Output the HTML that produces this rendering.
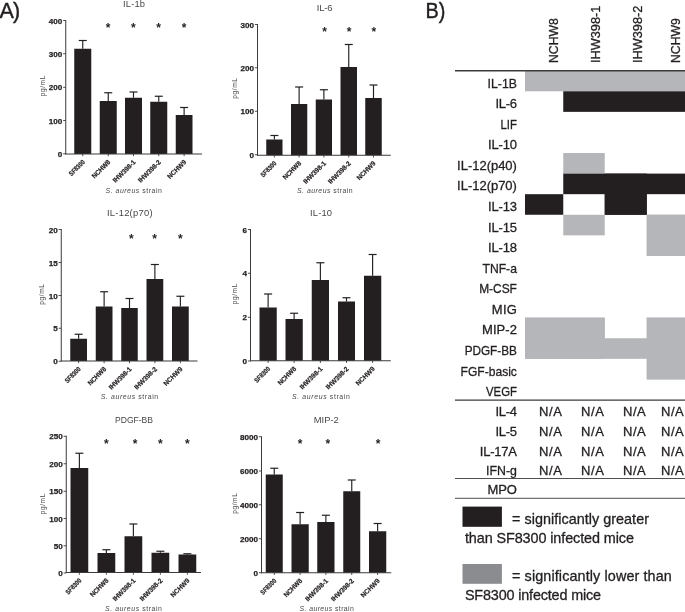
<!DOCTYPE html>
<html><head><meta charset="utf-8"><title>Figure</title>
<style>
html,body{margin:0;padding:0;background:#fff;}
svg{display:block;font-family:'Liberation Sans', Arial, sans-serif;}
</style></head><body>
<svg width="685" height="612" viewBox="0 0 685 612">
<rect x="0" y="0" width="685" height="612" fill="#ffffff"/>
<rect x="74.25" y="48.75" width="17.00" height="105.25" fill="#231f20"/>
<line x1="82.75" y1="40.50" x2="82.75" y2="48.75" stroke="#231f20" stroke-width="1.15"/>
<line x1="78.75" y1="40.50" x2="86.75" y2="40.50" stroke="#231f20" stroke-width="1.2"/>
<line x1="82.75" y1="154.00" x2="82.75" y2="156.20" stroke="#3c3a3b" stroke-width="0.9"/>
<rect x="99.75" y="101.00" width="17.00" height="53.00" fill="#231f20"/>
<line x1="108.25" y1="92.75" x2="108.25" y2="101.00" stroke="#231f20" stroke-width="1.15"/>
<line x1="104.25" y1="92.75" x2="112.25" y2="92.75" stroke="#231f20" stroke-width="1.2"/>
<line x1="108.25" y1="154.00" x2="108.25" y2="156.20" stroke="#3c3a3b" stroke-width="0.9"/>
<rect x="125.00" y="97.75" width="17.00" height="56.25" fill="#231f20"/>
<line x1="133.50" y1="92.00" x2="133.50" y2="97.75" stroke="#231f20" stroke-width="1.15"/>
<line x1="129.50" y1="92.00" x2="137.50" y2="92.00" stroke="#231f20" stroke-width="1.2"/>
<line x1="133.50" y1="154.00" x2="133.50" y2="156.20" stroke="#3c3a3b" stroke-width="0.9"/>
<rect x="150.25" y="101.75" width="17.00" height="52.25" fill="#231f20"/>
<line x1="158.75" y1="96.25" x2="158.75" y2="101.75" stroke="#231f20" stroke-width="1.15"/>
<line x1="154.75" y1="96.25" x2="162.75" y2="96.25" stroke="#231f20" stroke-width="1.2"/>
<line x1="158.75" y1="154.00" x2="158.75" y2="156.20" stroke="#3c3a3b" stroke-width="0.9"/>
<rect x="175.75" y="115.00" width="16.75" height="39.00" fill="#231f20"/>
<line x1="184.12" y1="107.50" x2="184.12" y2="115.00" stroke="#231f20" stroke-width="1.15"/>
<line x1="180.12" y1="107.50" x2="188.12" y2="107.50" stroke="#231f20" stroke-width="1.2"/>
<line x1="184.12" y1="154.00" x2="184.12" y2="156.20" stroke="#3c3a3b" stroke-width="0.9"/>
<line x1="65.75" y1="20.00" x2="65.75" y2="154.50" stroke="#3c3a3b" stroke-width="1"/>
<line x1="65.25" y1="154.00" x2="202.00" y2="154.00" stroke="#3c3a3b" stroke-width="1"/>
<line x1="63.15" y1="153.75" x2="65.75" y2="153.75" stroke="#3c3a3b" stroke-width="0.9"/>
<text x="62.35" y="156.75" font-size="8.1" text-anchor="end" fill="#231f20" font-weight="bold" stroke="#231f20" stroke-width="0.25">0</text>
<line x1="63.15" y1="120.50" x2="65.75" y2="120.50" stroke="#3c3a3b" stroke-width="0.9"/>
<text x="62.35" y="123.50" font-size="8.1" text-anchor="end" fill="#231f20" font-weight="bold" stroke="#231f20" stroke-width="0.25">100</text>
<line x1="63.15" y1="87.25" x2="65.75" y2="87.25" stroke="#3c3a3b" stroke-width="0.9"/>
<text x="62.35" y="90.25" font-size="8.1" text-anchor="end" fill="#231f20" font-weight="bold" stroke="#231f20" stroke-width="0.25">200</text>
<line x1="63.15" y1="53.75" x2="65.75" y2="53.75" stroke="#3c3a3b" stroke-width="0.9"/>
<text x="62.35" y="56.75" font-size="8.1" text-anchor="end" fill="#231f20" font-weight="bold" stroke="#231f20" stroke-width="0.25">300</text>
<line x1="63.15" y1="20.50" x2="65.75" y2="20.50" stroke="#3c3a3b" stroke-width="0.9"/>
<text x="62.35" y="23.50" font-size="8.1" text-anchor="end" fill="#231f20" font-weight="bold" stroke="#231f20" stroke-width="0.25">400</text>
<text x="123.00" y="7.00" font-size="9.4" text-anchor="start" fill="#48484a" textLength="22.00" lengthAdjust="spacing">IL-1b</text>
<text x="108.00" y="32.00" font-size="12" text-anchor="middle" fill="#231f20" font-weight="bold">*</text>
<text x="133.25" y="32.00" font-size="12" text-anchor="middle" fill="#231f20" font-weight="bold">*</text>
<text x="158.50" y="32.00" font-size="12" text-anchor="middle" fill="#231f20" font-weight="bold">*</text>
<text x="184.00" y="32.00" font-size="12" text-anchor="middle" fill="#231f20" font-weight="bold">*</text>
<text x="44.80" y="86.00" font-size="6.5" text-anchor="middle" fill="#48484a" textLength="20.60" lengthAdjust="spacing" transform="rotate(-90 44.80 86.00)">pg/mL</text>
<text x="85.35" y="162.60" font-size="6.8" text-anchor="end" fill="#231f20" font-weight="bold" textLength="19.50" lengthAdjust="spacingAndGlyphs" stroke="#231f20" stroke-width="0.2" transform="rotate(-45 85.35 162.60)">SF8300</text>
<text x="110.85" y="162.60" font-size="6.8" text-anchor="end" fill="#231f20" font-weight="bold" textLength="23.00" lengthAdjust="spacingAndGlyphs" stroke="#231f20" stroke-width="0.2" transform="rotate(-45 110.85 162.60)">NCHW8</text>
<text x="136.10" y="162.60" font-size="6.8" text-anchor="end" fill="#231f20" font-weight="bold" textLength="29.00" lengthAdjust="spacingAndGlyphs" stroke="#231f20" stroke-width="0.2" transform="rotate(-45 136.10 162.60)">IHW398-1</text>
<text x="161.35" y="162.60" font-size="6.8" text-anchor="end" fill="#231f20" font-weight="bold" textLength="29.00" lengthAdjust="spacingAndGlyphs" stroke="#231f20" stroke-width="0.2" transform="rotate(-45 161.35 162.60)">IHW398-2</text>
<text x="186.72" y="162.60" font-size="6.8" text-anchor="end" fill="#231f20" font-weight="bold" textLength="23.50" lengthAdjust="spacingAndGlyphs" stroke="#231f20" stroke-width="0.2" transform="rotate(-45 186.72 162.60)">NCHW9</text>
<text x="105.50" y="192.50" font-size="6.9" text-anchor="start" fill="#48484a" textLength="56.35" lengthAdjust="spacing"><tspan font-style="italic">S. aureus</tspan> strain</text>
<rect x="266.25" y="139.50" width="16.25" height="15.75" fill="#231f20"/>
<line x1="274.38" y1="135.50" x2="274.38" y2="139.50" stroke="#231f20" stroke-width="1.15"/>
<line x1="270.38" y1="135.50" x2="278.38" y2="135.50" stroke="#231f20" stroke-width="1.2"/>
<line x1="274.38" y1="155.25" x2="274.38" y2="157.45" stroke="#3c3a3b" stroke-width="0.9"/>
<rect x="291.00" y="104.00" width="16.25" height="51.25" fill="#231f20"/>
<line x1="299.12" y1="87.00" x2="299.12" y2="104.00" stroke="#231f20" stroke-width="1.15"/>
<line x1="295.12" y1="87.00" x2="303.12" y2="87.00" stroke="#231f20" stroke-width="1.2"/>
<line x1="299.12" y1="155.25" x2="299.12" y2="157.45" stroke="#3c3a3b" stroke-width="0.9"/>
<rect x="315.75" y="99.50" width="16.25" height="55.75" fill="#231f20"/>
<line x1="323.88" y1="89.75" x2="323.88" y2="99.50" stroke="#231f20" stroke-width="1.15"/>
<line x1="319.88" y1="89.75" x2="327.88" y2="89.75" stroke="#231f20" stroke-width="1.2"/>
<line x1="323.88" y1="155.25" x2="323.88" y2="157.45" stroke="#3c3a3b" stroke-width="0.9"/>
<rect x="340.50" y="67.00" width="16.50" height="88.25" fill="#231f20"/>
<line x1="348.75" y1="44.50" x2="348.75" y2="67.00" stroke="#231f20" stroke-width="1.15"/>
<line x1="344.75" y1="44.50" x2="352.75" y2="44.50" stroke="#231f20" stroke-width="1.2"/>
<line x1="348.75" y1="155.25" x2="348.75" y2="157.45" stroke="#3c3a3b" stroke-width="0.9"/>
<rect x="365.25" y="98.00" width="16.50" height="57.25" fill="#231f20"/>
<line x1="373.50" y1="85.00" x2="373.50" y2="98.00" stroke="#231f20" stroke-width="1.15"/>
<line x1="369.50" y1="85.00" x2="377.50" y2="85.00" stroke="#231f20" stroke-width="1.2"/>
<line x1="373.50" y1="155.25" x2="373.50" y2="157.45" stroke="#3c3a3b" stroke-width="0.9"/>
<line x1="257.50" y1="24.00" x2="257.50" y2="155.75" stroke="#3c3a3b" stroke-width="1"/>
<line x1="257.00" y1="155.25" x2="390.75" y2="155.25" stroke="#3c3a3b" stroke-width="1"/>
<line x1="254.90" y1="154.75" x2="257.50" y2="154.75" stroke="#3c3a3b" stroke-width="0.9"/>
<text x="254.10" y="157.75" font-size="8.1" text-anchor="end" fill="#231f20" font-weight="bold" stroke="#231f20" stroke-width="0.25">0</text>
<line x1="254.90" y1="111.25" x2="257.50" y2="111.25" stroke="#3c3a3b" stroke-width="0.9"/>
<text x="254.10" y="114.25" font-size="8.1" text-anchor="end" fill="#231f20" font-weight="bold" stroke="#231f20" stroke-width="0.25">100</text>
<line x1="254.90" y1="67.75" x2="257.50" y2="67.75" stroke="#3c3a3b" stroke-width="0.9"/>
<text x="254.10" y="70.75" font-size="8.1" text-anchor="end" fill="#231f20" font-weight="bold" stroke="#231f20" stroke-width="0.25">200</text>
<line x1="254.90" y1="24.50" x2="257.50" y2="24.50" stroke="#3c3a3b" stroke-width="0.9"/>
<text x="254.10" y="27.50" font-size="8.1" text-anchor="end" fill="#231f20" font-weight="bold" stroke="#231f20" stroke-width="0.25">300</text>
<text x="316.75" y="11.00" font-size="9.4" text-anchor="start" fill="#48484a" textLength="15.75" lengthAdjust="spacing">IL-6</text>
<text x="324.50" y="36.00" font-size="12" text-anchor="middle" fill="#231f20" font-weight="bold">*</text>
<text x="349.00" y="36.00" font-size="12" text-anchor="middle" fill="#231f20" font-weight="bold">*</text>
<text x="373.75" y="36.00" font-size="12" text-anchor="middle" fill="#231f20" font-weight="bold">*</text>
<text x="236.80" y="88.40" font-size="6.5" text-anchor="middle" fill="#48484a" textLength="20.60" lengthAdjust="spacing" transform="rotate(-90 236.80 88.40)">pg/mL</text>
<text x="276.98" y="163.85" font-size="6.8" text-anchor="end" fill="#231f20" font-weight="bold" textLength="19.50" lengthAdjust="spacingAndGlyphs" stroke="#231f20" stroke-width="0.2" transform="rotate(-45 276.98 163.85)">SF8300</text>
<text x="301.73" y="163.85" font-size="6.8" text-anchor="end" fill="#231f20" font-weight="bold" textLength="23.00" lengthAdjust="spacingAndGlyphs" stroke="#231f20" stroke-width="0.2" transform="rotate(-45 301.73 163.85)">NCHW8</text>
<text x="326.48" y="163.85" font-size="6.8" text-anchor="end" fill="#231f20" font-weight="bold" textLength="29.00" lengthAdjust="spacingAndGlyphs" stroke="#231f20" stroke-width="0.2" transform="rotate(-45 326.48 163.85)">IHW398-1</text>
<text x="351.35" y="163.85" font-size="6.8" text-anchor="end" fill="#231f20" font-weight="bold" textLength="29.00" lengthAdjust="spacingAndGlyphs" stroke="#231f20" stroke-width="0.2" transform="rotate(-45 351.35 163.85)">IHW398-2</text>
<text x="376.10" y="163.85" font-size="6.8" text-anchor="end" fill="#231f20" font-weight="bold" textLength="23.50" lengthAdjust="spacingAndGlyphs" stroke="#231f20" stroke-width="0.2" transform="rotate(-45 376.10 163.85)">NCHW9</text>
<text x="297.00" y="192.50" font-size="6.9" text-anchor="start" fill="#48484a" textLength="55.60" lengthAdjust="spacing"><tspan font-style="italic">S. aureus</tspan> strain</text>
<rect x="70.25" y="338.75" width="16.75" height="22.25" fill="#231f20"/>
<line x1="78.62" y1="334.25" x2="78.62" y2="338.75" stroke="#231f20" stroke-width="1.15"/>
<line x1="74.62" y1="334.25" x2="82.62" y2="334.25" stroke="#231f20" stroke-width="1.2"/>
<line x1="78.62" y1="361.00" x2="78.62" y2="363.20" stroke="#3c3a3b" stroke-width="0.9"/>
<rect x="95.75" y="306.50" width="16.75" height="54.50" fill="#231f20"/>
<line x1="104.12" y1="291.75" x2="104.12" y2="306.50" stroke="#231f20" stroke-width="1.15"/>
<line x1="100.12" y1="291.75" x2="108.12" y2="291.75" stroke="#231f20" stroke-width="1.2"/>
<line x1="104.12" y1="361.00" x2="104.12" y2="363.20" stroke="#3c3a3b" stroke-width="0.9"/>
<rect x="121.25" y="308.00" width="16.50" height="53.00" fill="#231f20"/>
<line x1="129.50" y1="298.50" x2="129.50" y2="308.00" stroke="#231f20" stroke-width="1.15"/>
<line x1="125.50" y1="298.50" x2="133.50" y2="298.50" stroke="#231f20" stroke-width="1.2"/>
<line x1="129.50" y1="361.00" x2="129.50" y2="363.20" stroke="#3c3a3b" stroke-width="0.9"/>
<rect x="146.50" y="279.00" width="16.75" height="82.00" fill="#231f20"/>
<line x1="154.88" y1="264.50" x2="154.88" y2="279.00" stroke="#231f20" stroke-width="1.15"/>
<line x1="150.88" y1="264.50" x2="158.88" y2="264.50" stroke="#231f20" stroke-width="1.2"/>
<line x1="154.88" y1="361.00" x2="154.88" y2="363.20" stroke="#3c3a3b" stroke-width="0.9"/>
<rect x="172.00" y="306.50" width="16.75" height="54.50" fill="#231f20"/>
<line x1="180.38" y1="296.25" x2="180.38" y2="306.50" stroke="#231f20" stroke-width="1.15"/>
<line x1="176.38" y1="296.25" x2="184.38" y2="296.25" stroke="#231f20" stroke-width="1.2"/>
<line x1="180.38" y1="361.00" x2="180.38" y2="363.20" stroke="#3c3a3b" stroke-width="0.9"/>
<line x1="61.25" y1="229.00" x2="61.25" y2="361.50" stroke="#3c3a3b" stroke-width="1"/>
<line x1="60.75" y1="361.00" x2="197.50" y2="361.00" stroke="#3c3a3b" stroke-width="1"/>
<line x1="58.65" y1="361.25" x2="61.25" y2="361.25" stroke="#3c3a3b" stroke-width="0.9"/>
<text x="57.85" y="364.25" font-size="8.1" text-anchor="end" fill="#231f20" font-weight="bold" stroke="#231f20" stroke-width="0.25">0</text>
<line x1="58.65" y1="328.25" x2="61.25" y2="328.25" stroke="#3c3a3b" stroke-width="0.9"/>
<text x="57.85" y="331.25" font-size="8.1" text-anchor="end" fill="#231f20" font-weight="bold" stroke="#231f20" stroke-width="0.25">5</text>
<line x1="58.65" y1="295.50" x2="61.25" y2="295.50" stroke="#3c3a3b" stroke-width="0.9"/>
<text x="57.85" y="298.50" font-size="8.1" text-anchor="end" fill="#231f20" font-weight="bold" stroke="#231f20" stroke-width="0.25">10</text>
<line x1="58.65" y1="262.50" x2="61.25" y2="262.50" stroke="#3c3a3b" stroke-width="0.9"/>
<text x="57.85" y="265.50" font-size="8.1" text-anchor="end" fill="#231f20" font-weight="bold" stroke="#231f20" stroke-width="0.25">15</text>
<line x1="58.65" y1="229.50" x2="61.25" y2="229.50" stroke="#3c3a3b" stroke-width="0.9"/>
<text x="57.85" y="232.50" font-size="8.1" text-anchor="end" fill="#231f20" font-weight="bold" stroke="#231f20" stroke-width="0.25">20</text>
<text x="107.00" y="216.00" font-size="9.4" text-anchor="start" fill="#48484a" textLength="45.50" lengthAdjust="spacing">IL-12(p70)</text>
<text x="131.25" y="243.00" font-size="12" text-anchor="middle" fill="#231f20" font-weight="bold">*</text>
<text x="154.50" y="243.00" font-size="12" text-anchor="middle" fill="#231f20" font-weight="bold">*</text>
<text x="180.25" y="243.00" font-size="12" text-anchor="middle" fill="#231f20" font-weight="bold">*</text>
<text x="44.30" y="294.40" font-size="6.5" text-anchor="middle" fill="#48484a" textLength="20.60" lengthAdjust="spacing" transform="rotate(-90 44.30 294.40)">pg/mL</text>
<text x="81.22" y="369.60" font-size="6.8" text-anchor="end" fill="#231f20" font-weight="bold" textLength="19.50" lengthAdjust="spacingAndGlyphs" stroke="#231f20" stroke-width="0.2" transform="rotate(-45 81.22 369.60)">SF8300</text>
<text x="106.72" y="369.60" font-size="6.8" text-anchor="end" fill="#231f20" font-weight="bold" textLength="23.00" lengthAdjust="spacingAndGlyphs" stroke="#231f20" stroke-width="0.2" transform="rotate(-45 106.72 369.60)">NCHW8</text>
<text x="132.10" y="369.60" font-size="6.8" text-anchor="end" fill="#231f20" font-weight="bold" textLength="29.00" lengthAdjust="spacingAndGlyphs" stroke="#231f20" stroke-width="0.2" transform="rotate(-45 132.10 369.60)">IHW398-1</text>
<text x="157.47" y="369.60" font-size="6.8" text-anchor="end" fill="#231f20" font-weight="bold" textLength="29.00" lengthAdjust="spacingAndGlyphs" stroke="#231f20" stroke-width="0.2" transform="rotate(-45 157.47 369.60)">IHW398-2</text>
<text x="182.97" y="369.60" font-size="6.8" text-anchor="end" fill="#231f20" font-weight="bold" textLength="23.50" lengthAdjust="spacingAndGlyphs" stroke="#231f20" stroke-width="0.2" transform="rotate(-45 182.97 369.60)">NCHW9</text>
<text x="100.75" y="399.25" font-size="6.9" text-anchor="start" fill="#48484a" textLength="57.35" lengthAdjust="spacing"><tspan font-style="italic">S. aureus</tspan> strain</text>
<rect x="259.50" y="307.50" width="17.25" height="53.25" fill="#231f20"/>
<line x1="268.12" y1="294.00" x2="268.12" y2="307.50" stroke="#231f20" stroke-width="1.15"/>
<line x1="264.12" y1="294.00" x2="272.12" y2="294.00" stroke="#231f20" stroke-width="1.2"/>
<line x1="268.12" y1="360.75" x2="268.12" y2="362.95" stroke="#3c3a3b" stroke-width="0.9"/>
<rect x="285.50" y="319.00" width="17.25" height="41.75" fill="#231f20"/>
<line x1="294.12" y1="313.25" x2="294.12" y2="319.00" stroke="#231f20" stroke-width="1.15"/>
<line x1="290.12" y1="313.25" x2="298.12" y2="313.25" stroke="#231f20" stroke-width="1.2"/>
<line x1="294.12" y1="360.75" x2="294.12" y2="362.95" stroke="#3c3a3b" stroke-width="0.9"/>
<rect x="311.75" y="280.00" width="17.25" height="80.75" fill="#231f20"/>
<line x1="320.38" y1="262.75" x2="320.38" y2="280.00" stroke="#231f20" stroke-width="1.15"/>
<line x1="316.38" y1="262.75" x2="324.38" y2="262.75" stroke="#231f20" stroke-width="1.2"/>
<line x1="320.38" y1="360.75" x2="320.38" y2="362.95" stroke="#3c3a3b" stroke-width="0.9"/>
<rect x="338.00" y="301.50" width="17.00" height="59.25" fill="#231f20"/>
<line x1="346.50" y1="297.75" x2="346.50" y2="301.50" stroke="#231f20" stroke-width="1.15"/>
<line x1="342.50" y1="297.75" x2="350.50" y2="297.75" stroke="#231f20" stroke-width="1.2"/>
<line x1="346.50" y1="360.75" x2="346.50" y2="362.95" stroke="#3c3a3b" stroke-width="0.9"/>
<rect x="364.00" y="275.75" width="17.25" height="85.00" fill="#231f20"/>
<line x1="372.62" y1="254.50" x2="372.62" y2="275.75" stroke="#231f20" stroke-width="1.15"/>
<line x1="368.62" y1="254.50" x2="376.62" y2="254.50" stroke="#231f20" stroke-width="1.2"/>
<line x1="372.62" y1="360.75" x2="372.62" y2="362.95" stroke="#3c3a3b" stroke-width="0.9"/>
<line x1="250.50" y1="229.00" x2="250.50" y2="361.25" stroke="#3c3a3b" stroke-width="1"/>
<line x1="250.00" y1="360.75" x2="390.75" y2="360.75" stroke="#3c3a3b" stroke-width="1"/>
<line x1="247.90" y1="361.00" x2="250.50" y2="361.00" stroke="#3c3a3b" stroke-width="0.9"/>
<text x="247.10" y="364.00" font-size="8.1" text-anchor="end" fill="#231f20" font-weight="bold" stroke="#231f20" stroke-width="0.25">0</text>
<line x1="247.90" y1="317.25" x2="250.50" y2="317.25" stroke="#3c3a3b" stroke-width="0.9"/>
<text x="247.10" y="320.25" font-size="8.1" text-anchor="end" fill="#231f20" font-weight="bold" stroke="#231f20" stroke-width="0.25">2</text>
<line x1="247.90" y1="273.25" x2="250.50" y2="273.25" stroke="#3c3a3b" stroke-width="0.9"/>
<text x="247.10" y="276.25" font-size="8.1" text-anchor="end" fill="#231f20" font-weight="bold" stroke="#231f20" stroke-width="0.25">4</text>
<line x1="247.90" y1="229.50" x2="250.50" y2="229.50" stroke="#3c3a3b" stroke-width="0.9"/>
<text x="247.10" y="232.50" font-size="8.1" text-anchor="end" fill="#231f20" font-weight="bold" stroke="#231f20" stroke-width="0.25">6</text>
<text x="310.00" y="216.00" font-size="9.4" text-anchor="start" fill="#48484a" textLength="22.00" lengthAdjust="spacing">IL-10</text>
<text x="237.30" y="294.00" font-size="6.5" text-anchor="middle" fill="#48484a" textLength="20.60" lengthAdjust="spacing" transform="rotate(-90 237.30 294.00)">pg/mL</text>
<text x="270.73" y="369.35" font-size="6.8" text-anchor="end" fill="#231f20" font-weight="bold" textLength="19.50" lengthAdjust="spacingAndGlyphs" stroke="#231f20" stroke-width="0.2" transform="rotate(-45 270.73 369.35)">SF8300</text>
<text x="296.73" y="369.35" font-size="6.8" text-anchor="end" fill="#231f20" font-weight="bold" textLength="23.00" lengthAdjust="spacingAndGlyphs" stroke="#231f20" stroke-width="0.2" transform="rotate(-45 296.73 369.35)">NCHW8</text>
<text x="322.98" y="369.35" font-size="6.8" text-anchor="end" fill="#231f20" font-weight="bold" textLength="29.00" lengthAdjust="spacingAndGlyphs" stroke="#231f20" stroke-width="0.2" transform="rotate(-45 322.98 369.35)">IHW398-1</text>
<text x="349.10" y="369.35" font-size="6.8" text-anchor="end" fill="#231f20" font-weight="bold" textLength="29.00" lengthAdjust="spacingAndGlyphs" stroke="#231f20" stroke-width="0.2" transform="rotate(-45 349.10 369.35)">IHW398-2</text>
<text x="375.23" y="369.35" font-size="6.8" text-anchor="end" fill="#231f20" font-weight="bold" textLength="23.50" lengthAdjust="spacingAndGlyphs" stroke="#231f20" stroke-width="0.2" transform="rotate(-45 375.23 369.35)">NCHW9</text>
<text x="292.00" y="399.25" font-size="6.9" text-anchor="start" fill="#48484a" textLength="57.85" lengthAdjust="spacing"><tspan font-style="italic">S. aureus</tspan> strain</text>
<rect x="70.50" y="468.00" width="17.75" height="104.50" fill="#231f20"/>
<line x1="79.38" y1="453.25" x2="79.38" y2="468.00" stroke="#231f20" stroke-width="1.15"/>
<line x1="75.38" y1="453.25" x2="83.38" y2="453.25" stroke="#231f20" stroke-width="1.2"/>
<line x1="79.38" y1="572.50" x2="79.38" y2="574.70" stroke="#3c3a3b" stroke-width="0.9"/>
<rect x="97.50" y="553.00" width="17.75" height="19.50" fill="#231f20"/>
<line x1="106.38" y1="549.75" x2="106.38" y2="553.00" stroke="#231f20" stroke-width="1.15"/>
<line x1="102.38" y1="549.75" x2="110.38" y2="549.75" stroke="#231f20" stroke-width="1.2"/>
<line x1="106.38" y1="572.50" x2="106.38" y2="574.70" stroke="#3c3a3b" stroke-width="0.9"/>
<rect x="124.50" y="536.25" width="17.75" height="36.25" fill="#231f20"/>
<line x1="133.38" y1="524.00" x2="133.38" y2="536.25" stroke="#231f20" stroke-width="1.15"/>
<line x1="129.38" y1="524.00" x2="137.38" y2="524.00" stroke="#231f20" stroke-width="1.2"/>
<line x1="133.38" y1="572.50" x2="133.38" y2="574.70" stroke="#3c3a3b" stroke-width="0.9"/>
<rect x="151.50" y="552.75" width="17.75" height="19.75" fill="#231f20"/>
<line x1="160.38" y1="551.25" x2="160.38" y2="552.75" stroke="#231f20" stroke-width="1.15"/>
<line x1="156.38" y1="551.25" x2="164.38" y2="551.25" stroke="#231f20" stroke-width="1.2"/>
<line x1="160.38" y1="572.50" x2="160.38" y2="574.70" stroke="#3c3a3b" stroke-width="0.9"/>
<rect x="178.50" y="554.50" width="17.75" height="18.00" fill="#231f20"/>
<line x1="187.38" y1="553.75" x2="187.38" y2="554.50" stroke="#231f20" stroke-width="1.15"/>
<line x1="183.38" y1="553.75" x2="191.38" y2="553.75" stroke="#231f20" stroke-width="1.2"/>
<line x1="187.38" y1="572.50" x2="187.38" y2="574.70" stroke="#3c3a3b" stroke-width="0.9"/>
<line x1="66.25" y1="435.75" x2="66.25" y2="573.00" stroke="#3c3a3b" stroke-width="1"/>
<line x1="65.75" y1="572.50" x2="201.00" y2="572.50" stroke="#3c3a3b" stroke-width="1"/>
<line x1="63.65" y1="573.00" x2="66.25" y2="573.00" stroke="#3c3a3b" stroke-width="0.9"/>
<text x="62.85" y="576.00" font-size="8.1" text-anchor="end" fill="#231f20" font-weight="bold" stroke="#231f20" stroke-width="0.25">0</text>
<line x1="63.65" y1="545.75" x2="66.25" y2="545.75" stroke="#3c3a3b" stroke-width="0.9"/>
<text x="62.85" y="548.75" font-size="8.1" text-anchor="end" fill="#231f20" font-weight="bold" stroke="#231f20" stroke-width="0.25">50</text>
<line x1="63.65" y1="518.50" x2="66.25" y2="518.50" stroke="#3c3a3b" stroke-width="0.9"/>
<text x="62.85" y="521.50" font-size="8.1" text-anchor="end" fill="#231f20" font-weight="bold" stroke="#231f20" stroke-width="0.25">100</text>
<line x1="63.65" y1="491.25" x2="66.25" y2="491.25" stroke="#3c3a3b" stroke-width="0.9"/>
<text x="62.85" y="494.25" font-size="8.1" text-anchor="end" fill="#231f20" font-weight="bold" stroke="#231f20" stroke-width="0.25">150</text>
<line x1="63.65" y1="463.75" x2="66.25" y2="463.75" stroke="#3c3a3b" stroke-width="0.9"/>
<text x="62.85" y="466.75" font-size="8.1" text-anchor="end" fill="#231f20" font-weight="bold" stroke="#231f20" stroke-width="0.25">200</text>
<line x1="63.65" y1="436.25" x2="66.25" y2="436.25" stroke="#3c3a3b" stroke-width="0.9"/>
<text x="62.85" y="439.25" font-size="8.1" text-anchor="end" fill="#231f20" font-weight="bold" stroke="#231f20" stroke-width="0.25">250</text>
<text x="115.00" y="423.00" font-size="9.4" text-anchor="start" fill="#48484a" textLength="38.00" lengthAdjust="spacingAndGlyphs">PDGF-BB</text>
<text x="106.25" y="448.00" font-size="12" text-anchor="middle" fill="#231f20" font-weight="bold">*</text>
<text x="135.00" y="448.00" font-size="12" text-anchor="middle" fill="#231f20" font-weight="bold">*</text>
<text x="160.25" y="448.00" font-size="12" text-anchor="middle" fill="#231f20" font-weight="bold">*</text>
<text x="187.25" y="448.00" font-size="12" text-anchor="middle" fill="#231f20" font-weight="bold">*</text>
<text x="44.80" y="504.00" font-size="6.5" text-anchor="middle" fill="#48484a" textLength="20.60" lengthAdjust="spacing" transform="rotate(-90 44.80 504.00)">pg/mL</text>
<text x="81.97" y="581.10" font-size="6.8" text-anchor="end" fill="#231f20" font-weight="bold" textLength="19.50" lengthAdjust="spacingAndGlyphs" stroke="#231f20" stroke-width="0.2" transform="rotate(-45 81.97 581.10)">SF8300</text>
<text x="108.97" y="581.10" font-size="6.8" text-anchor="end" fill="#231f20" font-weight="bold" textLength="23.00" lengthAdjust="spacingAndGlyphs" stroke="#231f20" stroke-width="0.2" transform="rotate(-45 108.97 581.10)">NCHW8</text>
<text x="135.97" y="581.10" font-size="6.8" text-anchor="end" fill="#231f20" font-weight="bold" textLength="29.00" lengthAdjust="spacingAndGlyphs" stroke="#231f20" stroke-width="0.2" transform="rotate(-45 135.97 581.10)">IHW398-1</text>
<text x="162.97" y="581.10" font-size="6.8" text-anchor="end" fill="#231f20" font-weight="bold" textLength="29.00" lengthAdjust="spacingAndGlyphs" stroke="#231f20" stroke-width="0.2" transform="rotate(-45 162.97 581.10)">IHW398-2</text>
<text x="189.97" y="581.10" font-size="6.8" text-anchor="end" fill="#231f20" font-weight="bold" textLength="23.50" lengthAdjust="spacingAndGlyphs" stroke="#231f20" stroke-width="0.2" transform="rotate(-45 189.97 581.10)">NCHW9</text>
<text x="105.00" y="611.00" font-size="6.9" text-anchor="start" fill="#48484a" textLength="56.85" lengthAdjust="spacing"><tspan font-style="italic">S. aureus</tspan> strain</text>
<rect x="265.75" y="474.50" width="17.00" height="98.25" fill="#231f20"/>
<line x1="274.25" y1="468.25" x2="274.25" y2="474.50" stroke="#231f20" stroke-width="1.15"/>
<line x1="270.25" y1="468.25" x2="278.25" y2="468.25" stroke="#231f20" stroke-width="1.2"/>
<line x1="274.25" y1="572.75" x2="274.25" y2="574.95" stroke="#3c3a3b" stroke-width="0.9"/>
<rect x="291.50" y="524.25" width="17.25" height="48.50" fill="#231f20"/>
<line x1="300.12" y1="512.50" x2="300.12" y2="524.25" stroke="#231f20" stroke-width="1.15"/>
<line x1="296.12" y1="512.50" x2="304.12" y2="512.50" stroke="#231f20" stroke-width="1.2"/>
<line x1="300.12" y1="572.75" x2="300.12" y2="574.95" stroke="#3c3a3b" stroke-width="0.9"/>
<rect x="317.25" y="522.00" width="17.25" height="50.75" fill="#231f20"/>
<line x1="325.88" y1="515.25" x2="325.88" y2="522.00" stroke="#231f20" stroke-width="1.15"/>
<line x1="321.88" y1="515.25" x2="329.88" y2="515.25" stroke="#231f20" stroke-width="1.2"/>
<line x1="325.88" y1="572.75" x2="325.88" y2="574.95" stroke="#3c3a3b" stroke-width="0.9"/>
<rect x="343.25" y="491.25" width="17.00" height="81.50" fill="#231f20"/>
<line x1="351.75" y1="480.00" x2="351.75" y2="491.25" stroke="#231f20" stroke-width="1.15"/>
<line x1="347.75" y1="480.00" x2="355.75" y2="480.00" stroke="#231f20" stroke-width="1.2"/>
<line x1="351.75" y1="572.75" x2="351.75" y2="574.95" stroke="#3c3a3b" stroke-width="0.9"/>
<rect x="369.00" y="531.25" width="17.25" height="41.50" fill="#231f20"/>
<line x1="377.62" y1="523.50" x2="377.62" y2="531.25" stroke="#231f20" stroke-width="1.15"/>
<line x1="373.62" y1="523.50" x2="381.62" y2="523.50" stroke="#231f20" stroke-width="1.2"/>
<line x1="377.62" y1="572.75" x2="377.62" y2="574.95" stroke="#3c3a3b" stroke-width="0.9"/>
<line x1="261.50" y1="436.25" x2="261.50" y2="573.25" stroke="#3c3a3b" stroke-width="1"/>
<line x1="261.00" y1="572.75" x2="391.25" y2="572.75" stroke="#3c3a3b" stroke-width="1"/>
<line x1="258.90" y1="572.70" x2="261.50" y2="572.70" stroke="#3c3a3b" stroke-width="0.9"/>
<text x="258.10" y="575.70" font-size="8.1" text-anchor="end" fill="#231f20" font-weight="bold" stroke="#231f20" stroke-width="0.25">0</text>
<line x1="258.90" y1="538.75" x2="261.50" y2="538.75" stroke="#3c3a3b" stroke-width="0.9"/>
<text x="258.10" y="541.75" font-size="8.1" text-anchor="end" fill="#231f20" font-weight="bold" stroke="#231f20" stroke-width="0.25">2000</text>
<line x1="258.90" y1="504.75" x2="261.50" y2="504.75" stroke="#3c3a3b" stroke-width="0.9"/>
<text x="258.10" y="507.75" font-size="8.1" text-anchor="end" fill="#231f20" font-weight="bold" stroke="#231f20" stroke-width="0.25">4000</text>
<line x1="258.90" y1="471.00" x2="261.50" y2="471.00" stroke="#3c3a3b" stroke-width="0.9"/>
<text x="258.10" y="474.00" font-size="8.1" text-anchor="end" fill="#231f20" font-weight="bold" stroke="#231f20" stroke-width="0.25">6000</text>
<line x1="258.90" y1="436.75" x2="261.50" y2="436.75" stroke="#3c3a3b" stroke-width="0.9"/>
<text x="258.10" y="439.75" font-size="8.1" text-anchor="end" fill="#231f20" font-weight="bold" stroke="#231f20" stroke-width="0.25">8000</text>
<text x="313.75" y="423.00" font-size="9.4" text-anchor="start" fill="#48484a" textLength="25.00" lengthAdjust="spacing">MIP-2</text>
<text x="300.00" y="448.00" font-size="12" text-anchor="middle" fill="#231f20" font-weight="bold">*</text>
<text x="327.75" y="448.00" font-size="12" text-anchor="middle" fill="#231f20" font-weight="bold">*</text>
<text x="378.00" y="448.00" font-size="12" text-anchor="middle" fill="#231f20" font-weight="bold">*</text>
<text x="236.80" y="503.50" font-size="6.5" text-anchor="middle" fill="#48484a" textLength="20.60" lengthAdjust="spacing" transform="rotate(-90 236.80 503.50)">pg/mL</text>
<text x="276.85" y="581.35" font-size="6.8" text-anchor="end" fill="#231f20" font-weight="bold" textLength="19.50" lengthAdjust="spacingAndGlyphs" stroke="#231f20" stroke-width="0.2" transform="rotate(-45 276.85 581.35)">SF8300</text>
<text x="302.73" y="581.35" font-size="6.8" text-anchor="end" fill="#231f20" font-weight="bold" textLength="23.00" lengthAdjust="spacingAndGlyphs" stroke="#231f20" stroke-width="0.2" transform="rotate(-45 302.73 581.35)">NCHW8</text>
<text x="328.48" y="581.35" font-size="6.8" text-anchor="end" fill="#231f20" font-weight="bold" textLength="29.00" lengthAdjust="spacingAndGlyphs" stroke="#231f20" stroke-width="0.2" transform="rotate(-45 328.48 581.35)">IHW398-1</text>
<text x="354.35" y="581.35" font-size="6.8" text-anchor="end" fill="#231f20" font-weight="bold" textLength="29.00" lengthAdjust="spacingAndGlyphs" stroke="#231f20" stroke-width="0.2" transform="rotate(-45 354.35 581.35)">IHW398-2</text>
<text x="380.23" y="581.35" font-size="6.8" text-anchor="end" fill="#231f20" font-weight="bold" textLength="23.50" lengthAdjust="spacingAndGlyphs" stroke="#231f20" stroke-width="0.2" transform="rotate(-45 380.23 581.35)">NCHW9</text>
<text x="299.50" y="611.00" font-size="6.9" text-anchor="start" fill="#48484a" textLength="54.35" lengthAdjust="spacing"><tspan font-style="italic">S. aureus</tspan> strain</text>
<text x="-0.50" y="18.30" font-size="21.5" text-anchor="start" fill="#231f20" textLength="20.60" lengthAdjust="spacing" stroke="#231f20" stroke-width="0.4">A)</text>
<text x="425.50" y="18.30" font-size="21.5" text-anchor="start" fill="#231f20" textLength="19.90" lengthAdjust="spacingAndGlyphs" stroke="#231f20" stroke-width="0.4">B)</text>
<rect x="525.00" y="70.70" width="161.00" height="20.58" fill="#b5b6b9"/>
<rect x="563.25" y="91.28" width="122.75" height="20.58" fill="#231f20"/>
<rect x="563.25" y="153.02" width="41.50" height="20.58" fill="#b5b6b9"/>
<rect x="563.25" y="173.60" width="122.75" height="20.58" fill="#231f20"/>
<rect x="525.00" y="194.18" width="38.25" height="20.58" fill="#231f20"/>
<rect x="604.75" y="194.18" width="42.00" height="20.58" fill="#231f20"/>
<rect x="563.25" y="214.76" width="41.50" height="20.58" fill="#b5b6b9"/>
<rect x="646.75" y="214.76" width="39.25" height="20.58" fill="#b5b6b9"/>
<rect x="646.75" y="235.34" width="39.25" height="20.58" fill="#b5b6b9"/>
<rect x="525.00" y="317.66" width="79.75" height="20.58" fill="#b5b6b9"/>
<rect x="646.75" y="317.66" width="39.25" height="20.58" fill="#b5b6b9"/>
<rect x="525.00" y="338.24" width="161.00" height="20.58" fill="#b5b6b9"/>
<rect x="646.75" y="358.82" width="39.25" height="20.58" fill="#b5b6b9"/>
<rect x="525.00" y="317.66" width="38.25" height="41.16" fill="#b5b6b9"/>
<rect x="563.25" y="317.66" width="41.50" height="41.16" fill="#b5b6b9"/>
<rect x="604.75" y="173.60" width="42.00" height="41.16" fill="#231f20"/>
<rect x="646.75" y="214.76" width="39.25" height="41.16" fill="#b5b6b9"/>
<rect x="646.75" y="317.66" width="39.25" height="61.74" fill="#b5b6b9"/>
<line x1="455.00" y1="70.75" x2="686.00" y2="70.75" stroke="#3c3a3b" stroke-width="1.4"/>
<line x1="455.00" y1="400.10" x2="686.00" y2="400.10" stroke="#3c3a3b" stroke-width="1.3"/>
<line x1="455.00" y1="478.50" x2="686.00" y2="478.50" stroke="#3c3a3b" stroke-width="0.9"/>
<line x1="455.00" y1="498.30" x2="686.00" y2="498.30" stroke="#3c3a3b" stroke-width="0.9"/>
<text x="516.90" y="88.00" font-size="13.0" text-anchor="end" fill="#231f20" textLength="29.32" lengthAdjust="spacingAndGlyphs" stroke="#231f20" stroke-width="0.3">IL-1B</text>
<text x="516.90" y="108.00" font-size="13.0" text-anchor="end" fill="#231f20" textLength="21.46" lengthAdjust="spacing" stroke="#231f20" stroke-width="0.3">IL-6</text>
<text x="516.90" y="129.00" font-size="13.0" text-anchor="end" fill="#231f20" textLength="16.35" lengthAdjust="spacingAndGlyphs" stroke="#231f20" stroke-width="0.3">LIF</text>
<text x="516.90" y="149.00" font-size="13.0" text-anchor="end" fill="#231f20" textLength="28.79" lengthAdjust="spacing" stroke="#231f20" stroke-width="0.3">IL-10</text>
<text x="516.90" y="170.00" font-size="13.0" text-anchor="end" fill="#231f20" textLength="59.79" lengthAdjust="spacing" stroke="#231f20" stroke-width="0.3">IL-12(p40)</text>
<text x="516.90" y="190.00" font-size="13.0" text-anchor="end" fill="#231f20" textLength="59.79" lengthAdjust="spacing" stroke="#231f20" stroke-width="0.3">IL-12(p70)</text>
<text x="516.90" y="211.00" font-size="13.0" text-anchor="end" fill="#231f20" textLength="28.79" lengthAdjust="spacing" stroke="#231f20" stroke-width="0.3">IL-13</text>
<text x="516.90" y="232.00" font-size="13.0" text-anchor="end" fill="#231f20" textLength="28.79" lengthAdjust="spacing" stroke="#231f20" stroke-width="0.3">IL-15</text>
<text x="516.90" y="252.00" font-size="13.0" text-anchor="end" fill="#231f20" textLength="28.79" lengthAdjust="spacing" stroke="#231f20" stroke-width="0.3">IL-18</text>
<text x="516.90" y="273.00" font-size="13.0" text-anchor="end" fill="#231f20" textLength="34.35" lengthAdjust="spacingAndGlyphs" stroke="#231f20" stroke-width="0.3">TNF-a</text>
<text x="516.90" y="293.00" font-size="13.0" text-anchor="end" fill="#231f20" textLength="37.76" lengthAdjust="spacingAndGlyphs" stroke="#231f20" stroke-width="0.3">M-CSF</text>
<text x="516.90" y="314.00" font-size="13.0" text-anchor="end" fill="#231f20" textLength="25.11" lengthAdjust="spacing" stroke="#231f20" stroke-width="0.3">MIG</text>
<text x="516.90" y="334.00" font-size="13.0" text-anchor="end" fill="#231f20" textLength="34.78" lengthAdjust="spacing" stroke="#231f20" stroke-width="0.3">MIP-2</text>
<text x="516.90" y="355.00" font-size="13.0" text-anchor="end" fill="#231f20" textLength="52.25" lengthAdjust="spacingAndGlyphs" stroke="#231f20" stroke-width="0.3">PDGF-BB</text>
<text x="516.90" y="376.00" font-size="13.0" text-anchor="end" fill="#231f20" textLength="56.28" lengthAdjust="spacingAndGlyphs" stroke="#231f20" stroke-width="0.3">FGF-basic</text>
<text x="516.90" y="396.00" font-size="13.0" text-anchor="end" fill="#231f20" textLength="30.84" lengthAdjust="spacingAndGlyphs" stroke="#231f20" stroke-width="0.3">VEGF</text>
<text x="516.90" y="416.00" font-size="13.0" text-anchor="end" fill="#231f20" textLength="21.46" lengthAdjust="spacing" stroke="#231f20" stroke-width="0.3">IL-4</text>
<text x="550.50" y="416.00" font-size="13.0" text-anchor="middle" fill="#231f20" textLength="22.77" lengthAdjust="spacing" stroke="#231f20" stroke-width="0.3">N/A</text>
<text x="592.50" y="416.00" font-size="13.0" text-anchor="middle" fill="#231f20" textLength="22.77" lengthAdjust="spacing" stroke="#231f20" stroke-width="0.3">N/A</text>
<text x="634.40" y="416.00" font-size="13.0" text-anchor="middle" fill="#231f20" textLength="22.77" lengthAdjust="spacing" stroke="#231f20" stroke-width="0.3">N/A</text>
<text x="672.40" y="416.00" font-size="13.0" text-anchor="middle" fill="#231f20" textLength="22.77" lengthAdjust="spacing" stroke="#231f20" stroke-width="0.3">N/A</text>
<text x="516.90" y="436.00" font-size="13.0" text-anchor="end" fill="#231f20" textLength="21.46" lengthAdjust="spacing" stroke="#231f20" stroke-width="0.3">IL-5</text>
<text x="550.50" y="436.00" font-size="13.0" text-anchor="middle" fill="#231f20" textLength="22.77" lengthAdjust="spacing" stroke="#231f20" stroke-width="0.3">N/A</text>
<text x="592.50" y="436.00" font-size="13.0" text-anchor="middle" fill="#231f20" textLength="22.77" lengthAdjust="spacing" stroke="#231f20" stroke-width="0.3">N/A</text>
<text x="634.40" y="436.00" font-size="13.0" text-anchor="middle" fill="#231f20" textLength="22.77" lengthAdjust="spacing" stroke="#231f20" stroke-width="0.3">N/A</text>
<text x="672.40" y="436.00" font-size="13.0" text-anchor="middle" fill="#231f20" textLength="22.77" lengthAdjust="spacing" stroke="#231f20" stroke-width="0.3">N/A</text>
<text x="516.90" y="456.00" font-size="13.0" text-anchor="end" fill="#231f20" textLength="37.15" lengthAdjust="spacing" stroke="#231f20" stroke-width="0.3">IL-17A</text>
<text x="550.50" y="456.00" font-size="13.0" text-anchor="middle" fill="#231f20" textLength="22.77" lengthAdjust="spacing" stroke="#231f20" stroke-width="0.3">N/A</text>
<text x="592.50" y="456.00" font-size="13.0" text-anchor="middle" fill="#231f20" textLength="22.77" lengthAdjust="spacing" stroke="#231f20" stroke-width="0.3">N/A</text>
<text x="634.40" y="456.00" font-size="13.0" text-anchor="middle" fill="#231f20" textLength="22.77" lengthAdjust="spacing" stroke="#231f20" stroke-width="0.3">N/A</text>
<text x="672.40" y="456.00" font-size="13.0" text-anchor="middle" fill="#231f20" textLength="22.77" lengthAdjust="spacing" stroke="#231f20" stroke-width="0.3">N/A</text>
<text x="516.90" y="475.00" font-size="13.0" text-anchor="end" fill="#231f20" textLength="30.83" lengthAdjust="spacingAndGlyphs" stroke="#231f20" stroke-width="0.3">IFN-g</text>
<text x="550.50" y="475.00" font-size="13.0" text-anchor="middle" fill="#231f20" textLength="22.77" lengthAdjust="spacing" stroke="#231f20" stroke-width="0.3">N/A</text>
<text x="592.50" y="475.00" font-size="13.0" text-anchor="middle" fill="#231f20" textLength="22.77" lengthAdjust="spacing" stroke="#231f20" stroke-width="0.3">N/A</text>
<text x="634.40" y="475.00" font-size="13.0" text-anchor="middle" fill="#231f20" textLength="22.77" lengthAdjust="spacing" stroke="#231f20" stroke-width="0.3">N/A</text>
<text x="672.40" y="475.00" font-size="13.0" text-anchor="middle" fill="#231f20" textLength="22.77" lengthAdjust="spacing" stroke="#231f20" stroke-width="0.3">N/A</text>
<text x="516.90" y="494.00" font-size="13.0" text-anchor="end" fill="#231f20" textLength="29.39" lengthAdjust="spacing" stroke="#231f20" stroke-width="0.3">MPO</text>
<text x="558.30" y="63.00" font-size="13.0" text-anchor="start" fill="#231f20" textLength="44.78" lengthAdjust="spacingAndGlyphs" stroke="#231f20" stroke-width="0.3" transform="rotate(-90 558.30 63.00)">NCHW8</text>
<text x="600.30" y="63.00" font-size="13.0" text-anchor="start" fill="#231f20" textLength="57.37" lengthAdjust="spacingAndGlyphs" stroke="#231f20" stroke-width="0.3" transform="rotate(-90 600.30 63.00)">IHW398-1</text>
<text x="642.30" y="63.00" font-size="13.0" text-anchor="start" fill="#231f20" textLength="57.37" lengthAdjust="spacingAndGlyphs" stroke="#231f20" stroke-width="0.3" transform="rotate(-90 642.30 63.00)">IHW398-2</text>
<text x="679.60" y="63.00" font-size="13.0" text-anchor="start" fill="#231f20" textLength="44.78" lengthAdjust="spacingAndGlyphs" stroke="#231f20" stroke-width="0.3" transform="rotate(-90 679.60 63.00)">NCHW9</text>
<rect x="462.50" y="506.60" width="39.40" height="20.20" fill="#231f20"/>
<rect x="462.50" y="564.00" width="39.40" height="19.80" fill="#8a8c8f"/>
<text x="512.00" y="524.00" font-size="14.4" text-anchor="start" fill="#231f20" textLength="136.97" lengthAdjust="spacing" stroke="#231f20" stroke-width="0.3">= significantly greater</text>
<text x="464.90" y="543.00" font-size="14.4" text-anchor="start" fill="#231f20" textLength="169.08" lengthAdjust="spacing" stroke="#231f20" stroke-width="0.3">than SF8300 infected mice</text>
<text x="512.00" y="581.00" font-size="14.4" text-anchor="start" fill="#231f20" textLength="159.84" lengthAdjust="spacing" stroke="#231f20" stroke-width="0.3">= significantly lower than</text>
<text x="464.90" y="600.00" font-size="14.4" text-anchor="start" fill="#231f20" textLength="136.14" lengthAdjust="spacing" stroke="#231f20" stroke-width="0.3">SF8300 infected mice</text>
</svg>
</body></html>
